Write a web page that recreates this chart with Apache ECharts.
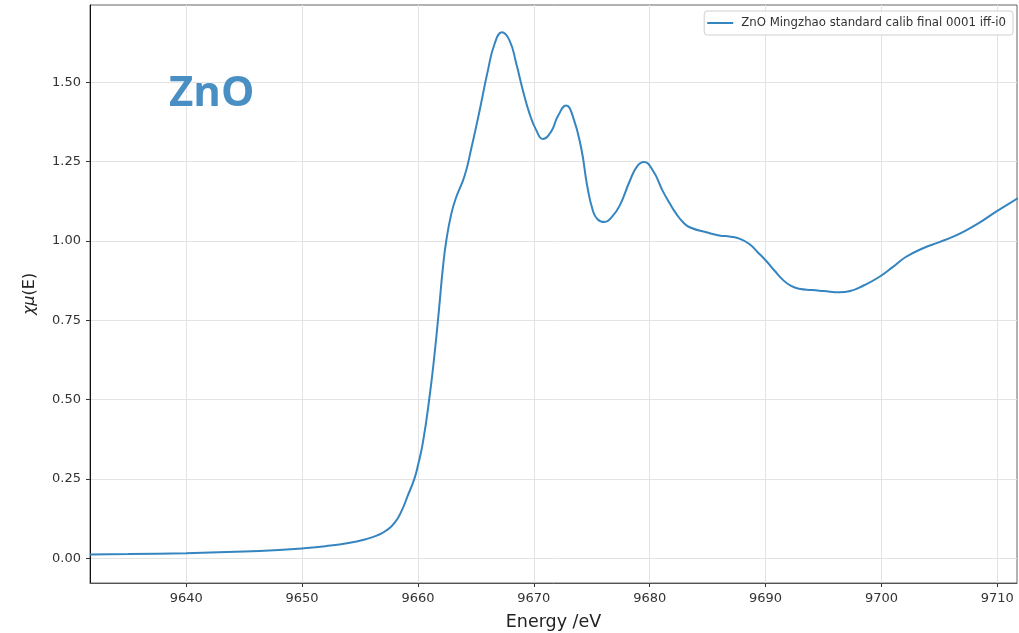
<!DOCTYPE html>
<html>
<head>
<meta charset="utf-8">
<script src="https://cdn.jsdelivr.net/npm/echarts@6/dist/echarts.min.js"></script>
<style>
  html, body { margin: 0; padding: 0; background: #fff; }
  #chart { width: 1019px; height: 633px; }
</style>
</head>
<body>
<div id="chart"></div>
<script>
// Zn K-edge XANES of ZnO: photon energy (eV) and normalised absorption χμ(E)
const energy = [
  9631.7, 9635.0, 9640.0, 9645.0, 9648.0, 9650.0, 9652.0, 9654.0, 9655.5, 9656.5,
  9657.3, 9658.0, 9658.6, 9659.1, 9659.7, 9660.0, 9660.43, 9661.0, 9661.44, 9661.81,
  9662.16, 9662.45, 9662.88, 9663.31, 9664.03, 9664.6, 9665.32, 9666.04, 9666.62, 9667.25,
  9667.91, 9668.49, 9669.06, 9669.64, 9670.22, 9670.78, 9671.51, 9672.08, 9672.8, 9673.37,
  9674.1, 9674.6, 9675.1, 9675.5, 9676.1, 9676.7, 9677.4, 9678.3, 9678.9, 9679.5,
  9680.3, 9681.1, 9681.7, 9682.3, 9682.9, 9683.5, 9684.9, 9686.0, 9687.0, 9687.8,
  9688.6, 9689.3, 9690.1, 9690.8, 9691.5, 9692.2, 9692.9, 9694.0, 9695.0, 9696.4,
  9697.3, 9698.5, 9699.8, 9701.0, 9702.1, 9703.5, 9705.0, 9706.2, 9707.3, 9708.5,
  9709.6, 9710.7, 9711.8
];
const mu = [
  0.012, 0.013, 0.016, 0.021, 0.026, 0.031, 0.038, 0.048, 0.060, 0.072,
  0.088, 0.112, 0.150, 0.195, 0.251, 0.292, 0.365, 0.508, 0.645, 0.781,
  0.917, 1.001, 1.085, 1.138, 1.205, 1.290, 1.410, 1.537, 1.621, 1.657,
  1.631, 1.558, 1.474, 1.400, 1.348, 1.321, 1.345, 1.393, 1.426, 1.392,
  1.290, 1.175, 1.095, 1.068, 1.059, 1.074, 1.110, 1.190, 1.234, 1.248,
  1.220, 1.159, 1.120, 1.085, 1.058, 1.042, 1.027, 1.017, 1.013, 1.006,
  0.990, 0.965, 0.935, 0.905, 0.877, 0.858, 0.849, 0.845, 0.842, 0.838,
  0.842, 0.860, 0.886, 0.918, 0.949, 0.975, 0.996, 1.013, 1.033, 1.058,
  1.085, 1.110, 1.135
];
const xTicks = [9640, 9650, 9660, 9670, 9680, 9690, 9700, 9710];
const yTicks = [0, 0.25, 0.5, 0.75, 1.0, 1.25, 1.5];
const seriesName = 'ZnO Mingzhao standard calib final 0001 iff-i0';
const sampleLabel = 'ZnO';

const points = energy.map((e, i) => [e, mu[i]]);
const font = 'DejaVu Sans';

const chart = echarts.init(document.getElementById('chart'), null, { renderer: 'canvas' });
chart.setOption({
  backgroundColor: '#ffffff',
  animation: false,
  grid: {
    left: 90, right: 2, top: 5, bottom: 50,
    outerBoundsMode: 'none', containLabel: false,
    show: true, borderColor: '#666', borderWidth: 1, backgroundColor: 'transparent'
  },
  graphic: [{
    type: 'text', left: 169, top: 73, z: 10,
    style: { text: sampleLabel, fill: '#4a8fc4', font: 'bold 42px "Open Sans"' }
  }],
  legend: {
    show: true, right: 6, top: 11,
    icon: 'rect', itemWidth: 26, itemHeight: 2, itemGap: 6,
    padding: [6, 7, 6, 3],
    borderColor: '#d0d0d0', borderWidth: 1, borderRadius: 3,
    backgroundColor: 'rgba(255,255,255,0.85)',
    textStyle: { fontFamily: font, fontSize: 11.75, color: '#333', padding: [0, 0, 0, 3] }
  },
  xAxis: {
    type: 'value', min: 9631.7, max: 9711.7,
    name: 'Energy /eV', nameLocation: 'middle', nameGap: 30,
    nameTextStyle: { fontFamily: font, fontSize: 17.5, color: '#222' },
    axisLine: { show: true, onZero: false, lineStyle: { color: '#555', width: 1 } },
    axisTick: { show: true, length: 4, customValues: xTicks, lineStyle: { color: '#333' } },
    axisLabel: {
      customValues: xTicks, fontFamily: font, fontSize: 13, color: '#333', margin: 9,
      formatter: v => String(v)
    },
    splitLine: { show: true, lineStyle: { color: '#e3e3e3', width: 1 } }
  },
  yAxis: {
    type: 'value', min: -0.078, max: 1.743,
    name: '{i|χμ}(E)', nameLocation: 'middle', nameGap: 52, nameRotate: 90,
    nameTextStyle: {
      fontFamily: font, fontSize: 16, color: '#222',
      rich: { i: { fontFamily: font, fontSize: 16, fontStyle: 'italic', color: '#222' } }
    },
    axisLine: { show: true, onZero: false, lineStyle: { color: '#111', width: 1 } },
    axisTick: { show: true, length: 4, customValues: yTicks, lineStyle: { color: '#333' } },
    axisLabel: {
      customValues: yTicks, fontFamily: font, fontSize: 13, color: '#333', margin: 9,
      formatter: v => v.toFixed(2)
    },
    splitLine: { show: true, lineStyle: { color: '#e3e3e3', width: 1 } }
  },
  series: [{
    name: seriesName,
    type: 'line',
    data: points,
    smooth: 0.5,
    showSymbol: false,
    clip: true,
    lineStyle: { color: '#3585c1', width: 2 },
    itemStyle: { color: '#3585c1' }
  }]
});
</script>
</body>
</html>
